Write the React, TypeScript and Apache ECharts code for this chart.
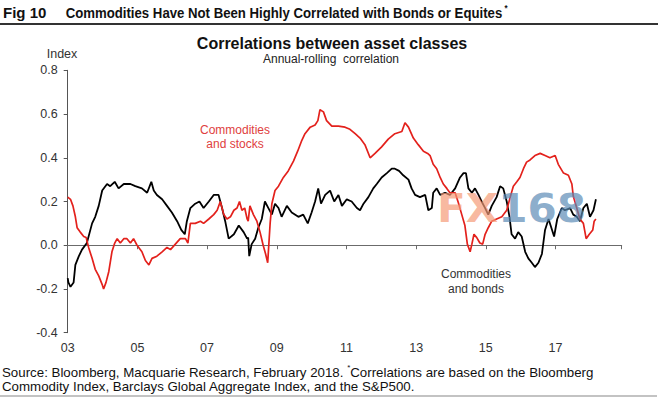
import React, { useEffect, useRef } from "react";
import * as echarts from "echarts";

const startYear = 2003;
const endYear = 2018.9;
const xTickLabels = ["03", "05", "07", "09", "11", "13", "15", "17"];
const yMin = -0.4;
const yMax = 0.8;
const yStep = 0.2;

// Commodities and bonds: [decimal year, correlation]
const bondsData: [number, number][] = [
  [2003.0, -0.15], [2003.02, -0.17], [2003.08, -0.19], [2003.17, -0.17], [2003.22, -0.09],
  [2003.32, -0.05], [2003.41, -0.02], [2003.55, 0.01], [2003.7, 0.1], [2003.79, 0.13],
  [2003.89, 0.18], [2003.99, 0.25], [2004.13, 0.28], [2004.22, 0.27], [2004.35, 0.29],
  [2004.46, 0.26], [2004.61, 0.28], [2004.8, 0.28], [2004.94, 0.27], [2005.13, 0.26],
  [2005.28, 0.24], [2005.4, 0.29], [2005.47, 0.25], [2005.56, 0.23], [2005.71, 0.21],
  [2005.85, 0.18], [2005.99, 0.15], [2006.14, 0.11], [2006.26, 0.07], [2006.36, 0.05],
  [2006.42, 0.11], [2006.52, 0.17], [2006.66, 0.19], [2006.78, 0.2], [2006.9, 0.17],
  [2007.05, 0.2], [2007.19, 0.23], [2007.33, 0.23], [2007.43, 0.17], [2007.52, 0.11],
  [2007.62, 0.03], [2007.77, 0.05], [2007.91, 0.09], [2008.05, 0.06], [2008.15, 0.03],
  [2008.18, 0.035], [2008.21, -0.05], [2008.28, 0.005], [2008.38, 0.03], [2008.47, 0.08],
  [2008.57, 0.12], [2008.66, 0.2], [2008.76, 0.17], [2008.86, 0.14], [2008.95, 0.19],
  [2009.05, 0.17], [2009.14, 0.13], [2009.29, 0.18], [2009.43, 0.15], [2009.62, 0.13],
  [2009.76, 0.14], [2009.89, 0.1], [2010.0, 0.15], [2010.1, 0.2], [2010.19, 0.26],
  [2010.27, 0.19], [2010.39, 0.23], [2010.53, 0.25], [2010.65, 0.2], [2010.77, 0.23],
  [2010.87, 0.18], [2011.01, 0.21], [2011.15, 0.2], [2011.3, 0.17], [2011.39, 0.16],
  [2011.49, 0.19], [2011.63, 0.22], [2011.77, 0.26], [2011.87, 0.28], [2012.01, 0.31],
  [2012.16, 0.33], [2012.3, 0.35], [2012.39, 0.35], [2012.51, 0.34], [2012.63, 0.32],
  [2012.78, 0.3], [2012.87, 0.26], [2012.97, 0.23], [2013.11, 0.22], [2013.26, 0.23],
  [2013.35, 0.16], [2013.45, 0.17], [2013.49, 0.24], [2013.59, 0.26], [2013.69, 0.23],
  [2013.83, 0.24], [2013.97, 0.23], [2014.12, 0.26], [2014.26, 0.31], [2014.36, 0.33],
  [2014.43, 0.33], [2014.5, 0.26], [2014.6, 0.24], [2014.69, 0.26], [2014.79, 0.23],
  [2014.88, 0.2], [2014.98, 0.17], [2015.07, 0.14], [2015.17, 0.18], [2015.31, 0.22],
  [2015.41, 0.27], [2015.5, 0.26], [2015.6, 0.2], [2015.68, 0.13], [2015.74, 0.05],
  [2015.84, 0.03], [2015.93, 0.06], [2016.03, 0.04], [2016.13, -0.03], [2016.22, -0.06],
  [2016.32, -0.08], [2016.41, -0.1], [2016.51, -0.08], [2016.61, -0.04], [2016.7, 0.07],
  [2016.8, 0.12], [2016.86, 0.09], [2016.96, 0.04], [2017.05, 0.12], [2017.18, 0.17],
  [2017.27, 0.16], [2017.42, 0.17], [2017.51, 0.14], [2017.61, 0.13], [2017.7, 0.11],
  [2017.8, 0.17], [2017.9, 0.19], [2017.99, 0.13], [2018.09, 0.16], [2018.16, 0.21],
];

// Commodities and stocks: [decimal year, correlation]
const stocksData: [number, number][] = [
  [2003.0, 0.22], [2003.08, 0.21], [2003.15, 0.18], [2003.22, 0.13], [2003.27, 0.08],
  [2003.36, 0.06], [2003.46, 0.04], [2003.53, 0.035], [2003.6, -0.01], [2003.7, -0.06],
  [2003.79, -0.11], [2003.89, -0.14], [2003.99, -0.18], [2004.03, -0.2], [2004.1, -0.17],
  [2004.18, -0.12], [2004.27, -0.03], [2004.35, 0.01], [2004.42, 0.03], [2004.51, 0.01],
  [2004.61, 0.03], [2004.7, 0.03], [2004.8, 0.01], [2004.89, 0.03], [2004.99, 0.0],
  [2005.13, -0.03], [2005.23, -0.07], [2005.33, -0.09], [2005.42, -0.06], [2005.56, -0.05],
  [2005.71, -0.03], [2005.85, -0.01], [2005.95, -0.02], [2006.09, 0.005], [2006.23, 0.03],
  [2006.38, 0.03], [2006.45, 0.01], [2006.52, 0.1], [2006.66, 0.1], [2006.81, 0.11],
  [2006.9, 0.1], [2007.05, 0.12], [2007.19, 0.14], [2007.29, 0.16], [2007.38, 0.2],
  [2007.48, 0.14], [2007.57, 0.12], [2007.67, 0.13], [2007.77, 0.16], [2007.86, 0.17],
  [2007.93, 0.2], [2008.0, 0.16], [2008.08, 0.17], [2008.15, 0.12], [2008.18, 0.11],
  [2008.23, 0.18], [2008.33, 0.14], [2008.43, 0.11], [2008.52, 0.06], [2008.61, 0.0],
  [2008.68, -0.04], [2008.74, -0.08], [2008.81, 0.1], [2008.86, 0.19], [2008.95, 0.25],
  [2009.05, 0.27], [2009.19, 0.31], [2009.33, 0.34], [2009.48, 0.385], [2009.6, 0.43],
  [2009.72, 0.48], [2009.81, 0.51], [2009.96, 0.54], [2010.1, 0.55], [2010.18, 0.57],
  [2010.24, 0.62], [2010.34, 0.61], [2010.43, 0.57], [2010.58, 0.545], [2010.77, 0.545],
  [2010.96, 0.54], [2011.1, 0.53], [2011.25, 0.51], [2011.39, 0.49], [2011.53, 0.46],
  [2011.68, 0.4], [2011.82, 0.42], [2012.01, 0.45], [2012.2, 0.485], [2012.39, 0.51],
  [2012.59, 0.52], [2012.68, 0.56], [2012.78, 0.54], [2012.92, 0.49], [2013.06, 0.46],
  [2013.21, 0.43], [2013.33, 0.42], [2013.4, 0.41], [2013.49, 0.37], [2013.59, 0.35],
  [2013.69, 0.31], [2013.78, 0.28], [2013.88, 0.26], [2013.97, 0.24], [2014.12, 0.24],
  [2014.21, 0.195], [2014.31, 0.14], [2014.4, 0.09], [2014.47, 0.005], [2014.55, -0.03],
  [2014.6, 0.005], [2014.66, 0.05], [2014.74, 0.035], [2014.83, 0.01], [2014.91, 0.005],
  [2014.98, 0.05], [2015.07, 0.08], [2015.17, 0.11], [2015.31, 0.12], [2015.46, 0.13],
  [2015.6, 0.16], [2015.7, 0.22], [2015.79, 0.27], [2015.89, 0.29], [2015.98, 0.31],
  [2016.08, 0.35], [2016.17, 0.38], [2016.27, 0.39], [2016.41, 0.41], [2016.56, 0.42],
  [2016.7, 0.41], [2016.84, 0.4], [2016.99, 0.41], [2017.08, 0.37], [2017.23, 0.33],
  [2017.37, 0.32], [2017.47, 0.28], [2017.51, 0.225], [2017.61, 0.17], [2017.7, 0.12],
  [2017.8, 0.1], [2017.88, 0.03], [2017.97, 0.05], [2018.07, 0.07], [2018.11, 0.11],
  [2018.16, 0.12],
];

const FONT = "'Liberation Sans', Arial, sans-serif";

export default function App() {
  const ref = useRef<HTMLDivElement>(null);

  useEffect(() => {
    document.body.style.margin = "0";
    const chart = echarts.init(ref.current!, undefined, { renderer: "svg" });
    const toX = (d: [number, number][]) => d.map((p) => [p[0] - startYear, p[1]]);

    chart.setOption({
      animation: false,
      textStyle: { fontFamily: FONT },
      grid: { left: 67.7, right: 36.3, top: 70.3, bottom: 64.3, containLabel: false },
      xAxis: [
        {
          type: "value",
          min: 0,
          max: endYear - startYear,
          interval: 2,
          axisLine: { show: true, onZero: true, lineStyle: { color: "#6b6b6b", width: 1 } },
          axisTick: { show: true, length: 4, lineStyle: { color: "#6b6b6b" } },
          axisLabel: { show: false },
          splitLine: { show: false },
        },
        {
          type: "value",
          position: "bottom",
          min: 0,
          max: endYear - startYear,
          interval: 2,
          axisLine: { show: false, onZero: false },
          axisTick: { show: false },
          axisLabel: {
            show: true,
            margin: 9,
            fontSize: 12.5,
            color: "#333",
            fontFamily: FONT,
            showMaxLabel: false,
            formatter: (v: number) => xTickLabels[Math.round(v / 2)] ?? "",
          },
          splitLine: { show: false },
        },
      ],
      yAxis: {
        type: "value",
        min: yMin,
        max: yMax,
        interval: yStep,
        axisLine: { show: true, onZero: false, lineStyle: { color: "#555", width: 1 } },
        axisTick: { show: true, length: 4, lineStyle: { color: "#555" } },
        axisLabel: {
          margin: 10,
          fontSize: 12.5,
          color: "#333",
          fontFamily: FONT,
          formatter: (v: number) => v.toFixed(1),
        },
        splitLine: { show: false },
      },
      series: [
        {
          type: "line",
          name: "Commodities and bonds",
          xAxisIndex: 0,
          data: toX(bondsData),
          showSymbol: false,
          symbol: "none",
          lineStyle: { color: "#000000", width: 1.8 },
          itemStyle: { color: "#000000" },
          z: 3,
        },
        {
          type: "line",
          name: "Commodities and stocks",
          xAxisIndex: 0,
          data: toX(stocksData),
          showSymbol: false,
          symbol: "none",
          lineStyle: { color: "#e3211c", width: 1.7 },
          itemStyle: { color: "#e3211c" },
          z: 4,
        },
      ],
      graphic: [
        {
          type: "text",
          x: 3,
          y: 12,
          style: { text: "Fig 10", font: `bold 15px ${FONT}`, fill: "#111", verticalAlign: "middle" },
        },
        {
          type: "text",
          x: 65.7,
          y: 12,
          scaleX: 0.88,
          style: {
            text: "{t|Commodities Have Not Been Highly Correlated with Bonds or Equites}{s|*}",
            verticalAlign: "middle",
            rich: {
              t: { font: `bold 15px ${FONT}`, fill: "#111", lineHeight: 17, verticalAlign: "bottom" },
              s: { font: `bold 9px ${FONT}`, fill: "#111", lineHeight: 17, verticalAlign: "top", padding: [0, 0, 0, 2] },
            },
          },
        },
        { type: "rect", shape: { x: 0, y: 23, width: 658, height: 2 }, style: { fill: "#333" } },
        {
          type: "text",
          x: 332,
          y: 43,
          style: { text: "Correlations between asset classes", font: `bold 16px ${FONT}`, fill: "#111", align: "center", verticalAlign: "middle" },
        },
        {
          type: "text",
          x: 331,
          y: 58.5,
          style: { text: "Annual-rolling  correlation", font: `12px ${FONT}`, fill: "#222", align: "center", verticalAlign: "middle" },
        },
        {
          type: "text",
          x: 62,
          y: 53.5,
          style: { text: "Index", font: `12.5px ${FONT}`, fill: "#333", align: "center", verticalAlign: "middle" },
        },
        {
          type: "text",
          x: 235,
          y: 136.5,
          style: { text: "Commodities\nand stocks", font: `12px ${FONT}`, fill: "#e04040", align: "center", verticalAlign: "middle", lineHeight: 14 },
        },
        {
          type: "text",
          x: 476,
          y: 281,
          style: { text: "Commodities\nand bonds", font: `12px ${FONT}`, fill: "#333", align: "center", verticalAlign: "middle", lineHeight: 15 },
        },
        {
          type: "text",
          x: 437,
          y: 209,
          scaleX: 1.08,
          z: 100,
          style: {
            text: "{a|FX}{b|168}",
            verticalAlign: "middle",
            opacity: 0.7,
            rich: {
              a: { font: `bold 39px 'DejaVu Sans', sans-serif`, fill: "#f59a76" },
              b: { font: `bold 39px 'DejaVu Sans', sans-serif`, fill: "#5a8ab5" },
            },
          },
        },
        {
          type: "text",
          x: 2,
          y: 371,
          style: {
            text: "{a|Source: Bloomberg, Macquarie Research, February 2018. }{s|*}{a|Correlations are based on the Bloomberg}",
            verticalAlign: "middle",
            rich: {
              a: { font: `13.3px ${FONT}`, fill: "#111", lineHeight: 16, verticalAlign: "bottom" },
              s: { font: `8px ${FONT}`, fill: "#111", lineHeight: 16, verticalAlign: "top" },
            },
          },
        },
        {
          type: "text",
          x: 2,
          y: 386,
          style: {
            text: "Commodity Index, Barclays Global Aggregate Index, and the S&P500.",
            font: `13.3px ${FONT}`,
            fill: "#111",
            verticalAlign: "middle",
          },
        },
        { type: "rect", shape: { x: 0, y: 395.5, width: 657, height: 1 }, style: { fill: "#888" } },
      ],
    });

    return () => chart.dispose();
  }, []);

  return <div ref={ref} style={{ width: 658, height: 397 }} />;
}
